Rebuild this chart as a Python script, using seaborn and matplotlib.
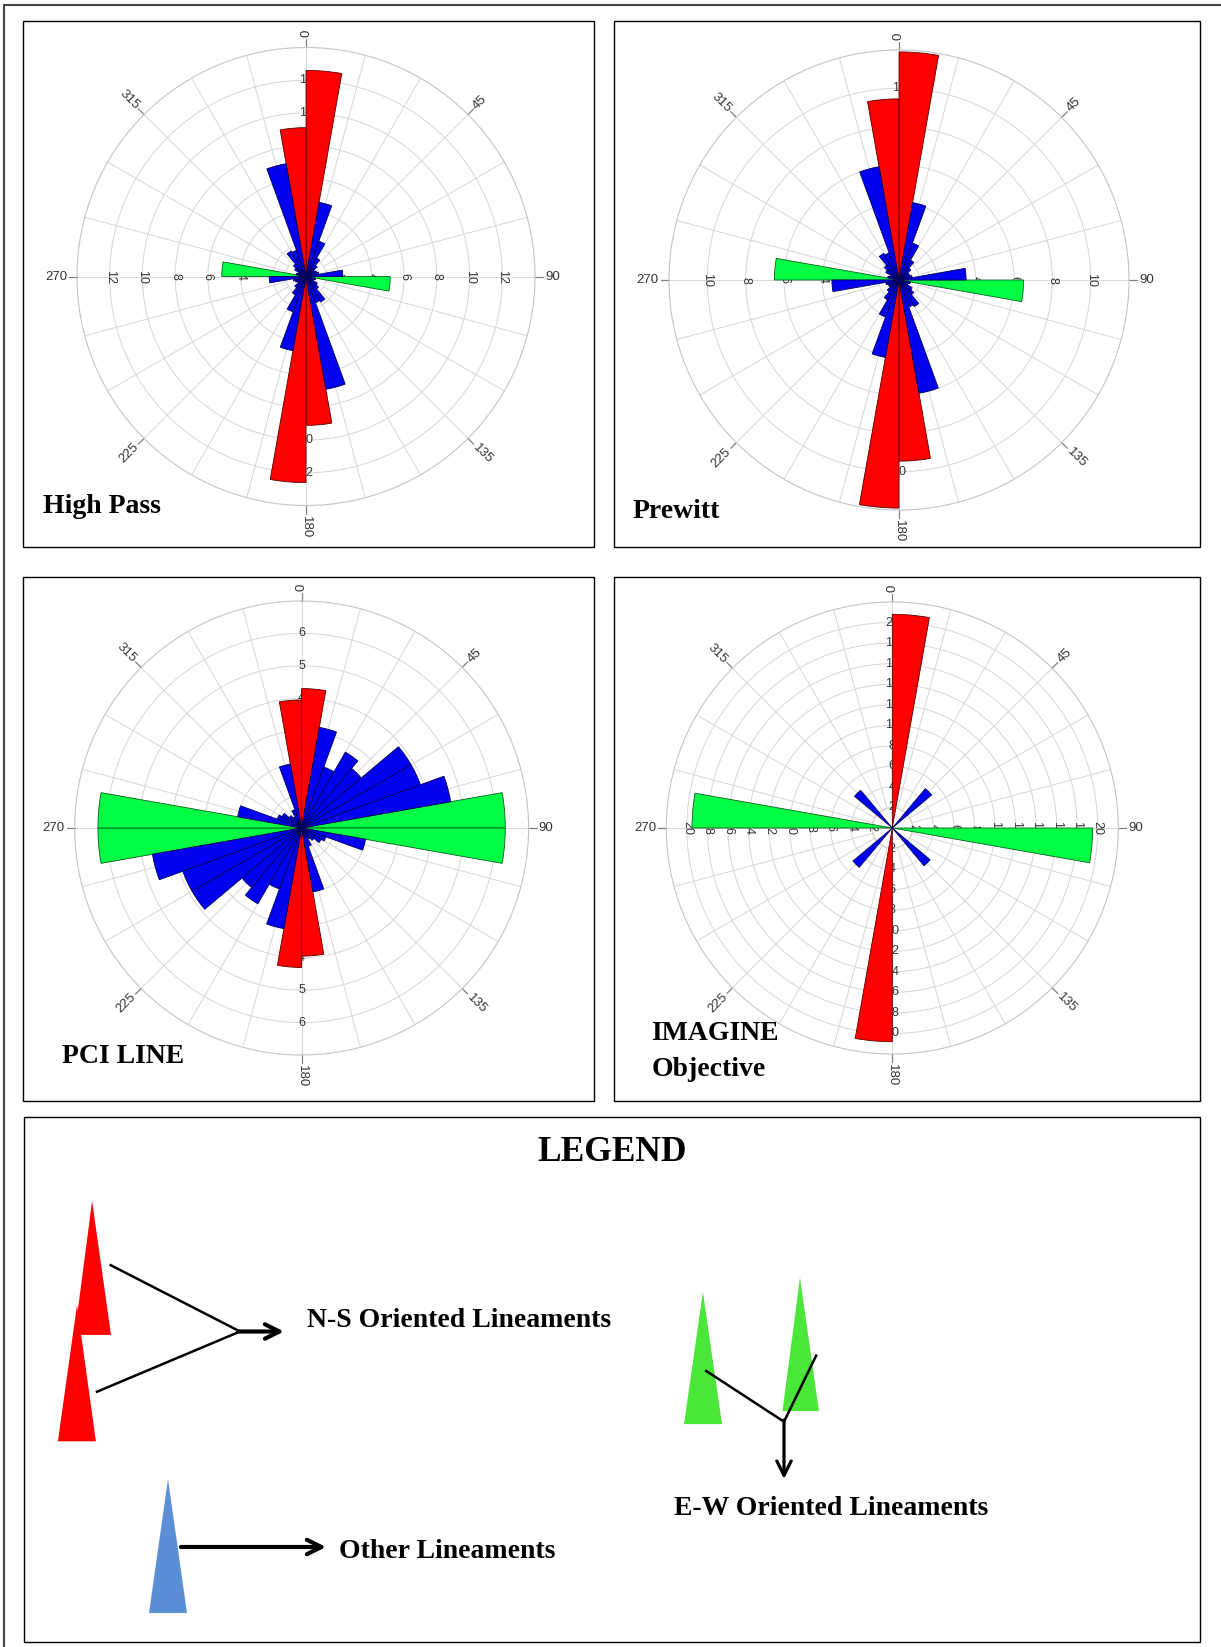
import numpy as np
import pandas as pd
import matplotlib
matplotlib.use("Agg")
import matplotlib.pyplot as plt
from matplotlib.patches import Polygon, Rectangle
import seaborn as sns

# rose diagrams are bidirectional: each 10 degree bin is drawn at start and start + 180
bin_starts = list(range(0, 180, 10))

high_pass = [12.6, 4.6, 2.3, 1.3, 0.9, 0.6, 0.7, 0.8, 2.25, 5.15, 0.6, 0.5, 0.8, 1.0, 1.8, 1.7, 7.0, 9.1]
prewitt = [11.9, 4.1, 2.05, 1.2, 0.8, 0.6, 0.6, 0.7, 3.5, 6.5, 0.6, 0.5, 0.8, 1.0, 1.6, 1.5, 6.0, 9.45]
pci_line = [4.3, 3.15, 2.0, 2.7, 2.4, 3.9, 3.9, 4.67, 6.28, 6.28, 2.0, 0.8, 0.7, 0.5, 0.4, 0.6, 2.0, 3.95]
imagine = [20.8, 0, 0, 0, 5.0, 0, 0, 0, 0, 19.5, 0, 0, 0, 4.8, 0, 0, 0, 0]

panels = ["High Pass", "Prewitt", "PCI LINE", "IMAGINE Objective"]
counts = [high_pass, prewitt, pci_line, imagine]

# bins (start angle) classed as N-S and E-W lineaments
ns_bins = [[0, 170], [0, 170], [0, 170], [0]]
ew_bins = [[90], [90], [80, 90], [90]]

# radial scale of each diagram
r_max = [14, 12, 7, 22]
r_step = [2, 2, 1, 2]

W, H = 1221, 1647
# centre x, centre y, outer radius (pixels)
layout = [(306, 276.5, 229), (899, 280, 230), (301.6, 828, 227), (892.3, 828, 226)]

fill = {"ns": "#ff0000", "ew": "#00ff44", "other": "#0000f0"}
edge = {"ns": "#5a0000", "ew": "#0b5d1a", "other": "#00005a"}
grid_c = "#d6d6d6"
text_c = "#333333"

rows = []
for name, vals, ns, ew in zip(panels, counts, ns_bins, ew_bins):
    for start, v in zip(bin_starts, vals):
        kind = "ns" if start in ns else ("ew" if start in ew else "other")
        rows.append({"panel": name, "start": start, "count": v, "kind": kind})
df = pd.DataFrame(rows)


def draw_rose(data, **kws):
    ax = plt.gca()
    i = panels.index(data["panel"].iloc[0])
    top, step = r_max[i], r_step[i]
    ax.set_theta_zero_location("N")
    ax.set_theta_direction(-1)
    ax.set_ylim(0, top)
    ax.set_xticks([])
    ax.set_yticks(np.arange(step, top, step))
    ax.set_yticklabels([])
    ax.yaxis.grid(True, color=grid_c, lw=0.7)
    ax.spines["polar"].set_color("#c4c4c4")
    ax.spines["polar"].set_linewidth(0.8)

    r0 = top * 20 / 228
    t = np.linspace(0, 2 * np.pi, 240)
    ax.plot(t, np.full_like(t, r0), color=grid_c, lw=0.7, zorder=1)
    for a in range(0, 360, 15):
        rad = np.deg2rad(a)
        lo = 0 if a % 90 == 0 else r0
        ax.plot([rad, rad], [lo, top], color=grid_c, lw=0.7, zorder=1)
        if a % 45 == 0:
            ax.plot([rad, rad], [top, top * (1 + 8 / 228)], color="#808080",
                    lw=0.9, clip_on=False, zorder=1)
            phi = 90 - a
            if phi <= -180:
                phi += 360
            if -90 <= phi <= 90:
                rot, ha = phi, "left"
            else:
                rot, ha = (phi - 180 if phi > 0 else phi + 180), "right"
            ax.text(rad, top * (1 + 10 / 228), str(a), rotation=rot, ha=ha, va="center",
                    rotation_mode="anchor", fontsize=9.5, color=text_c,
                    family="Liberation Sans", clip_on=False)

    for v in np.arange(step, top, step):
        lab = f"{v:g}"
        for a in (90, 270):
            ax.text(np.deg2rad(a), v, lab, rotation=-90, ha="center", va="center",
                    fontsize=9, color=text_c, family="Liberation Sans", zorder=2)
        for a in (0, 180):
            ax.text(np.deg2rad(a), v, lab, ha="center", va="center",
                    fontsize=9, color=text_c, family="Liberation Sans", zorder=2)

    for kind, part in data.groupby("kind"):
        for offset in (0, 180):
            ax.bar(np.deg2rad(part["start"] + offset), part["count"], width=np.deg2rad(10),
                   align="edge", color=fill[kind], edgecolor=edge[kind], linewidth=0.6,
                   zorder=3)


sns.set_theme(style="white")
g = sns.FacetGrid(df, col="panel", col_wrap=2, col_order=panels, height=4,
                  subplot_kws={"projection": "polar"}, sharex=False, sharey=False,
                  despine=False)
g.map_dataframe(draw_rose)
g.set_titles("")

fig = g.figure
fig.set_size_inches(W / 100, H / 100)
fig.patch.set_facecolor("white")
for ax, (cx, cy, R) in zip(g.axes.flat, layout):
    ax.set_position([(cx - R) / W, 1 - (cy + R) / H, 2 * R / W, 2 * R / H])
    ax.set_xlabel("")
    ax.set_ylabel("")

# overlay in pixel coordinates for frames, titles and the legend
ov = fig.add_axes([0, 0, 1, 1], zorder=-1)
ov.set_xlim(0, W)
ov.set_ylim(H, 0)
ov.axis("off")
ov.patch.set_alpha(0)

ov.plot([4, 4], [5, H], color="#444444", lw=1.5)
ov.plot([4, W], [5, 5], color="#444444", lw=1.5)
for x0, y0, x1, y1 in [(23, 21, 594, 547), (614, 21, 1200, 547), (23, 577, 594, 1101),
                       (614, 577, 1200, 1101), (23.5, 1117, 1200, 1642)]:
    ov.add_patch(Rectangle((x0, y0), x1 - x0, y1 - y0, fill=False, ec="black", lw=1.0))

serif = dict(family="Liberation Serif", weight="bold", color="black")
titles = [("High Pass", 42.7, 512.7), ("Prewitt", 633, 518), ("PCI LINE", 62, 1062.6),
          ("IMAGINE", 651.5, 1039.8), ("Objective", 651.5, 1076.2)]
for txt, x, y in titles:
    ov.text(x, y, txt, fontsize=20, va="baseline", ha="left", **serif)

# legend
ov.text(612, 1161, "LEGEND", fontsize=25.5, ha="center", va="baseline", **serif)
ov.text(306.8, 1327, "N-S Oriented Lineaments", fontsize=20, va="baseline", **serif)
ov.text(674, 1515, "E-W Oriented Lineaments", fontsize=20, va="baseline", **serif)
ov.text(338.7, 1558, "Other Lineaments", fontsize=20, va="baseline", **serif)

red_l, green_l, blue_l = "#ff0000", "#4ae63a", "#5a8fd5"
for pts, col in [([(77, 1305), (57.9, 1441.3), (95.9, 1441.3)], red_l),
                 ([(92.1, 1201), (74.6, 1334.9), (111, 1334.9)], red_l),
                 ([(702.9, 1292), (684, 1424.1), (722, 1424.1)], green_l),
                 ([(800, 1277.6), (782.5, 1411.1), (818.9, 1411.1)], green_l),
                 ([(168, 1479), (149, 1613), (187, 1613)], blue_l)]:
    ov.add_patch(Polygon(pts, closed=True, fc=col, ec="none"))

for (x0, y0), (x1, y1) in [((109.6, 1264.6), (240, 1331.5)), ((95.9, 1392.2), (240, 1331.5)),
                           ((705.2, 1370.3), (784, 1421.7)), ((816.7, 1354.5), (784, 1421.7))]:
    ov.plot([x0, x1], [y0, y1], color="black", lw=1.8, solid_capstyle="butt")

arrow = dict(arrowstyle="->", lw=3.0, color="black", mutation_scale=26, shrinkA=0, shrinkB=0)
ov.annotate("", xy=(284, 1331.5), xytext=(238, 1331.5), arrowprops=arrow)
ov.annotate("", xy=(784, 1479), xytext=(784, 1420), arrowprops=dict(arrow, lw=2.3))
ov.annotate("", xy=(326, 1547), xytext=(181, 1547), arrowprops=arrow)

fig.savefig("out.png", dpi=100)
